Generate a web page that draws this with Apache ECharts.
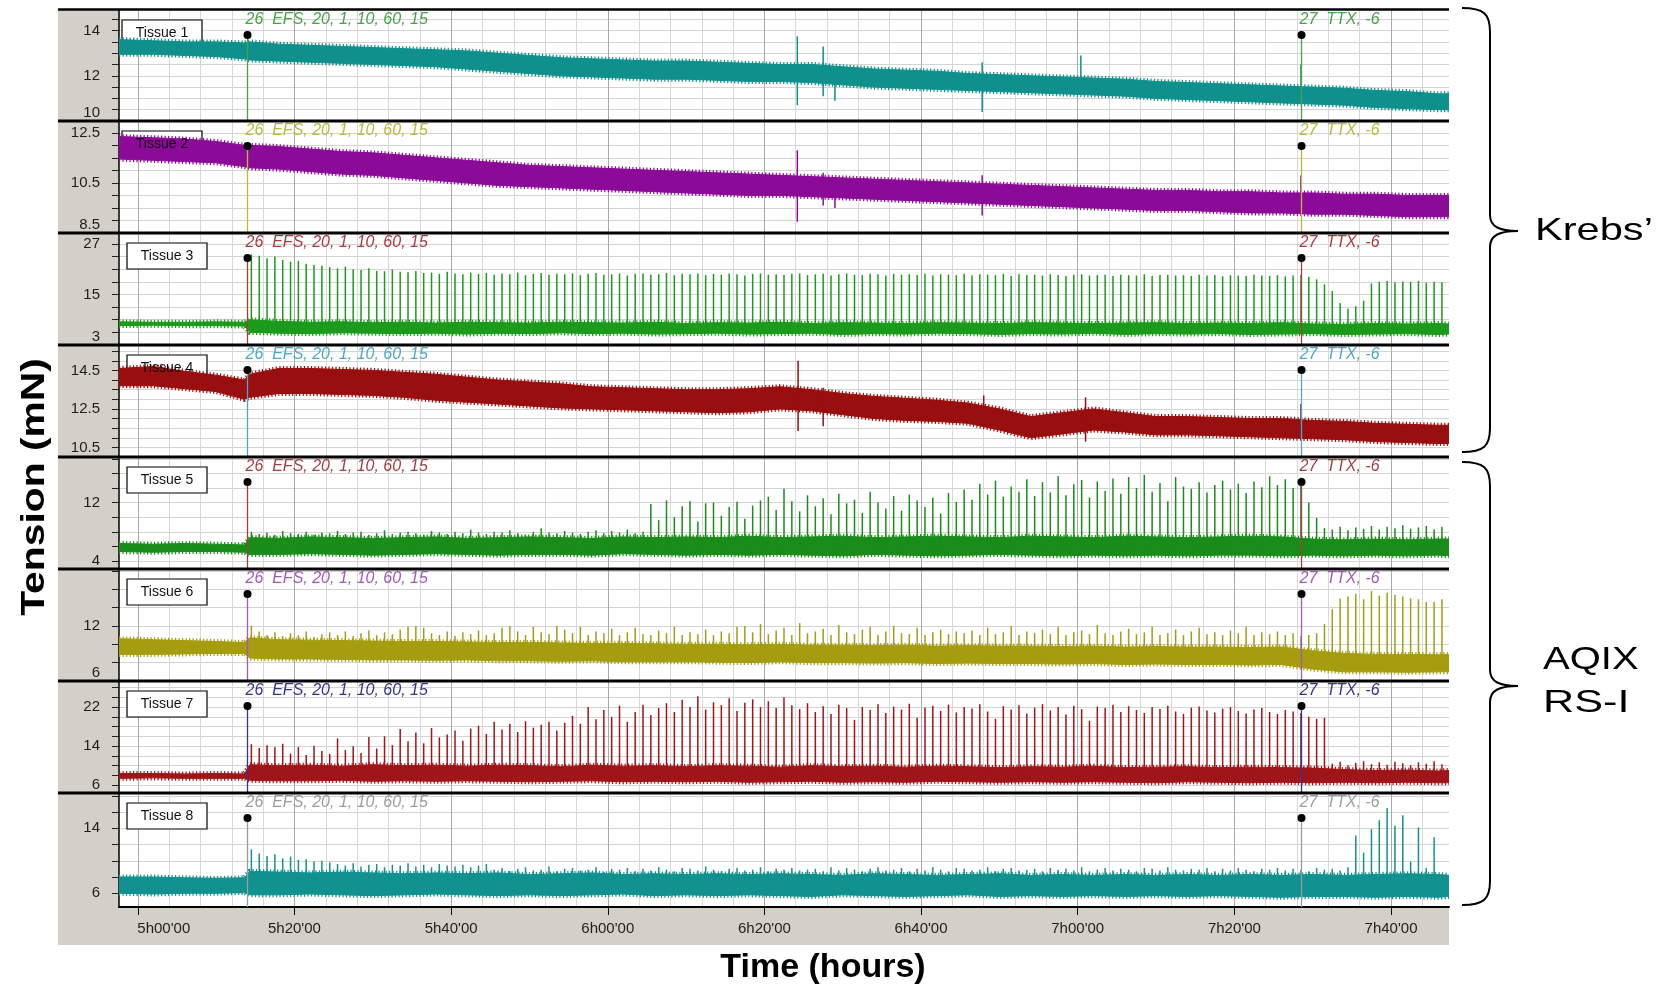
<!DOCTYPE html>
<html>
<head>
<meta charset="utf-8">
<title>Tissue tension</title>
<script src="https://cdn.jsdelivr.net/npm/echarts@6/dist/echarts.min.js"></script>
<style>
  html, body { margin: 0; padding: 0; background: #fff; }
  #frame { position: absolute; left: 58px; top: 9px; width: 1391px; height: 936px; background: #d4d0c8; }
  #chart { position: absolute; left: 0; top: 0; width: 1662px; height: 990px; }
</style>
</head>
<body>
<div id="frame"></div>
<div id="chart"></div>
<script>
// time in minutes (5h00'00 = 300)
var tMin = 297.6, tMax = 467.4;
var xTickMinutes = [300, 320, 340, 360, 380, 400, 420, 440, 460];
var xTickLabels = ["5h00'00", "5h20'00", "5h40'00", "6h00'00", "6h20'00", "6h40'00", "7h00'00", "7h20'00", "7h40'00"];
var gridMinutes = [300, 304, 308, 312, 316, 320, 324, 328, 332, 336, 340, 344, 348, 352, 356, 360, 364, 368, 372, 376,
  380, 384, 388, 392, 396, 400, 404, 408, 412, 416, 420, 424, 428, 432, 436, 440, 444, 448, 452, 456, 460, 464];

var tissueNames = ['Tissue 1', 'Tissue 2', 'Tissue 3', 'Tissue 4', 'Tissue 5', 'Tissue 6', 'Tissue 7', 'Tissue 8'];
var eventMinutes = [313.9, 448.5];
var eventTexts = ['26  EFS, 20, 1, 10, 60, 15', '27  TTX, -6'];

// y axes
var yMin = [10, 8.5, 3, 10, 2.9, 6, 4.4, 4.3];
var yMax = [14.91, 12.97, 29.6, 15.82, 18.25, 18.2, 27.35, 18.35];
var yTicks = [
  [10, 10.5, 11, 11.5, 12, 12.5, 13, 13.5, 14, 14.5],
  [8.5, 9, 9.5, 10, 10.5, 11, 11.5, 12, 12.5],
  [3, 6, 9, 12, 15, 18, 21, 24, 27],
  [10, 10.5, 11, 11.5, 12, 12.5, 13, 13.5, 14, 14.5, 15, 15.5],
  [4, 6, 8, 10, 12, 14, 16, 18],
  [6, 8, 10, 12, 14, 16, 18],
  [6, 8, 10, 12, 14, 16, 18, 20, 22, 24, 26],
  [6, 8, 10, 12, 14, 16, 18]
];
var yLabels = [
  [10, 12, 14], [8.5, 10.5, 12.5], [3, 15, 27], [10.5, 12.5, 14.5],
  [4, 12], [6, 12], [6, 14, 22], [6, 14]
];

// envelope of the recorded trace (lower / upper edge), mN
var bandMinutes = [297.6, 302, 306, 310, 313.6, 314.3, 318, 322, 326, 330, 334, 338, 342, 346, 350, 354, 358, 362, 366, 370,
  374, 378, 382, 386, 390, 394, 398, 402, 406, 410, 414, 418, 422, 426, 430, 434, 438, 442, 446, 450, 454, 458, 462, 466, 467.4];

var p1Lo = [12.95, 12.95, 12.9, 12.85, 12.75, 12.7, 12.65, 12.6, 12.55, 12.5, 12.45, 12.4, 12.3, 12.2, 12.1,
  12.0, 11.95, 11.9, 11.85, 11.85, 11.8, 11.75, 11.75, 11.7, 11.6, 11.5, 11.45, 11.4, 11.35, 11.3,
  11.25, 11.2, 11.15, 11.1, 11.0, 10.95, 10.9, 10.85, 10.8, 10.75, 10.7, 10.6, 10.55, 10.5, 10.5];
var p1Hi = [13.6, 13.55, 13.5, 13.5, 13.45, 13.5, 13.4, 13.35, 13.3, 13.25, 13.2, 13.15, 13.1, 13.0, 12.9,
  12.8, 12.75, 12.7, 12.65, 12.65, 12.6, 12.55, 12.5, 12.5, 12.4, 12.3, 12.25, 12.2, 12.1, 12.05,
  12.0, 11.95, 11.9, 11.85, 11.75, 11.7, 11.65, 11.6, 11.55, 11.5, 11.45, 11.35, 11.3, 11.2, 11.2];
var p2Lo = [11.45, 11.4, 11.35, 11.3, 11.15, 11.1, 11.05, 10.95, 10.85, 10.8, 10.7, 10.6, 10.5, 10.4, 10.35,
  10.3, 10.25, 10.2, 10.15, 10.1, 10.05, 10.0, 10.0, 9.95, 9.9, 9.85, 9.8, 9.75, 9.7, 9.65,
  9.6, 9.55, 9.5, 9.45, 9.4, 9.4, 9.35, 9.3, 9.3, 9.25, 9.25, 9.2, 9.15, 9.15, 9.15];
var p2Hi = [12.35, 12.3, 12.25, 12.15, 12.0, 12.0, 11.95, 11.85, 11.75, 11.7, 11.6, 11.5, 11.4, 11.3, 11.2,
  11.15, 11.1, 11.05, 11.0, 10.95, 10.9, 10.85, 10.8, 10.75, 10.7, 10.65, 10.6, 10.55, 10.5, 10.45,
  10.4, 10.35, 10.3, 10.25, 10.2, 10.2, 10.15, 10.15, 10.1, 10.1, 10.05, 10.05, 10.0, 10.0, 10.0];
var p3Lo = [7.6, 7.7, 7.6, 7.6, 7.5, 6.0, 5.8, 5.7, 5.9, 5.8, 5.7, 5.8, 5.6, 5.8, 5.7,
  5.9, 5.7, 5.8, 5.6, 5.7, 5.8, 5.6, 5.7, 5.8, 5.5, 5.7, 5.6, 5.8, 5.7, 5.5,
  5.7, 5.6, 5.8, 5.5, 5.7, 5.6, 5.7, 5.5, 5.6, 5.7, 5.5, 5.6, 5.7, 5.5, 5.6];
var p3Hi = [8.5, 8.4, 8.4, 8.5, 8.4, 9.0, 8.6, 8.4, 8.5, 8.3, 8.4, 8.2, 8.4, 8.3, 8.2,
  8.4, 8.3, 8.2, 8.4, 8.1, 8.3, 8.2, 8.4, 8.1, 8.3, 8.2, 8.1, 8.3, 8.2, 8.1,
  8.3, 8.2, 8.1, 8.2, 8.3, 8.1, 8.2, 8.1, 8.3, 8.0, 7.9, 8.1, 8.0, 8.1, 8.0];
var p4Lo = [13.7, 13.7, 13.55, 13.4, 13.0, 13.1, 13.3, 13.3, 13.25, 13.2, 13.1, 12.95, 12.85, 12.75, 12.65,
  12.55, 12.5, 12.45, 12.4, 12.35, 12.3, 12.35, 12.5, 12.4, 12.2, 12.0, 11.9, 11.85, 11.75, 11.4,
  11.0, 11.2, 11.4, 11.3, 11.15, 11.15, 11.1, 11.05, 11.0, 10.95, 10.9, 10.8, 10.75, 10.7, 10.7];
var p4Hi = [14.6, 14.7, 14.45, 14.25, 14.0, 14.3, 14.6, 14.6, 14.55, 14.5, 14.4, 14.3, 14.15, 14.0, 13.9,
  13.8, 13.65, 13.6, 13.55, 13.5, 13.5, 13.55, 13.65, 13.5, 13.3, 13.15, 13.05, 12.95, 12.8, 12.5,
  12.1, 12.3, 12.5, 12.3, 12.1, 12.1, 12.05, 12.0, 12.0, 11.9, 11.85, 11.75, 11.7, 11.65, 11.65];
var p5Lo = [5.3, 5.2, 5.3, 5.3, 5.2, 4.9, 4.9, 5.0, 4.9, 4.8, 4.9, 5.0, 4.9, 4.8, 4.9,
  4.9, 4.8, 5.0, 4.9, 4.8, 4.9, 4.8, 4.9, 4.8, 4.7, 4.9, 4.8, 4.7, 4.8, 4.9,
  4.8, 4.7, 4.8, 4.7, 4.8, 4.7, 4.8, 4.8, 4.7, 4.8, 4.7, 4.8, 4.7, 4.8, 4.7];
var p5Hi = [6.4, 6.3, 6.4, 6.3, 6.2, 7.2, 7.1, 7.3, 7.2, 7.1, 7.2, 7.3, 7.1, 7.2, 7.3,
  7.2, 7.1, 7.3, 7.2, 7.3, 7.2, 7.4, 7.2, 7.3, 7.4, 7.2, 7.3, 7.4, 7.3, 7.2,
  7.4, 7.3, 7.2, 7.4, 7.3, 7.2, 7.3, 7.4, 7.3, 7.0, 6.9, 7.0, 6.9, 7.0, 7.0];
var p6Lo = [8.9, 8.9, 8.95, 9.0, 9.0, 8.5, 8.4, 8.4, 8.35, 8.3, 8.3, 8.25, 8.3, 8.2, 8.2,
  8.15, 8.2, 8.1, 8.1, 8.1, 8.05, 8.0, 8.1, 8.0, 8.0, 7.95, 8.0, 7.9, 7.95, 7.9,
  7.9, 7.85, 7.9, 7.8, 7.85, 7.8, 7.8, 7.75, 7.8, 7.3, 7.0, 7.0, 6.95, 7.0, 7.0];
var p6Hi = [10.6, 10.5, 10.4, 10.3, 10.2, 10.7, 10.5, 10.45, 10.4, 10.35, 10.3, 10.3, 10.25, 10.2, 10.2,
  10.15, 10.1, 10.1, 10.05, 10.0, 10.0, 9.95, 10.0, 9.9, 9.9, 9.85, 9.9, 9.8, 9.85, 9.8,
  9.8, 9.75, 9.8, 9.7, 9.75, 9.7, 9.7, 9.65, 9.7, 9.3, 9.0, 8.9, 8.9, 8.85, 8.9];
var p7Lo = [7.4, 7.5, 7.4, 7.4, 7.4, 7.0, 6.9, 6.9, 7.0, 6.8, 6.9, 6.8, 6.9, 6.8, 6.7,
  6.8, 6.9, 6.7, 6.8, 6.7, 6.8, 6.6, 6.7, 6.8, 6.6, 6.7, 6.6, 6.8, 6.7, 6.6,
  6.7, 6.6, 6.7, 6.6, 6.5, 6.7, 6.6, 6.5, 6.6, 6.5, 6.6, 6.5, 6.6, 6.5, 6.5];
var p7Hi = [8.4, 8.4, 8.3, 8.4, 8.3, 10.2, 10.0, 10.1, 9.9, 10.2, 10.0, 10.1, 9.9, 10.1, 10.0,
  9.8, 10.1, 9.9, 10.0, 9.8, 10.0, 9.9, 9.7, 10.0, 9.8, 9.9, 9.7, 9.9, 9.8, 9.6,
  9.8, 9.7, 9.9, 9.6, 9.7, 9.8, 9.6, 9.7, 9.6, 9.5, 9.2, 9.0, 9.1, 8.9, 9.0];
var p8Lo = [6.0, 5.9, 6.0, 6.0, 6.1, 5.8, 5.8, 5.9, 5.8, 5.7, 5.8, 5.9, 5.8, 5.7, 5.8,
  5.7, 5.8, 5.9, 5.7, 5.8, 5.7, 5.8, 5.7, 5.6, 5.8, 5.7, 5.6, 5.7, 5.8, 5.6,
  5.7, 5.6, 5.7, 5.6, 5.7, 5.6, 5.7, 5.6, 5.5, 5.6, 5.6, 5.5, 5.6, 5.5, 5.6];
var p8Hi = [8.0, 8.0, 7.9, 7.8, 7.9, 8.7, 8.6, 8.5, 8.6, 8.5, 8.4, 8.5, 8.4, 8.5, 8.3,
  8.4, 8.5, 8.3, 8.4, 8.3, 8.4, 8.3, 8.4, 8.3, 8.2, 8.4, 8.3, 8.2, 8.3, 8.4,
  8.2, 8.3, 8.2, 8.3, 8.2, 8.3, 8.2, 8.3, 8.2, 8.3, 8.2, 8.3, 8.4, 8.3, 8.2];

// one contraction per stimulation train (about every minute after EFS): peak tension, mN
var pulseMinutes = [314.5, 315.5, 316.5, 317.5, 318.5, 319.5, 320.5, 321.5, 322.5, 323.5,
  324.5, 325.5, 326.5, 327.5, 328.5, 329.5, 330.5, 331.5, 332.5, 333.5,
  334.5, 335.5, 336.5, 337.5, 338.5, 339.5, 340.5, 341.5, 342.5, 343.5,
  344.5, 345.5, 346.5, 347.5, 348.5, 349.5, 350.5, 351.5, 352.5, 353.5,
  354.5, 355.5, 356.5, 357.5, 358.5, 359.5, 360.5, 361.5, 362.5, 363.5,
  364.5, 365.5, 366.5, 367.5, 368.5, 369.5, 370.5, 371.5, 372.5, 373.5,
  374.5, 375.5, 376.5, 377.5, 378.5, 379.5, 380.5, 381.5, 382.5, 383.5,
  384.5, 385.5, 386.5, 387.5, 388.5, 389.5, 390.5, 391.5, 392.5, 393.5,
  394.5, 395.5, 396.5, 397.5, 398.5, 399.5, 400.5, 401.5, 402.5, 403.5,
  404.5, 405.5, 406.5, 407.5, 408.5, 409.5, 410.5, 411.5, 412.5, 413.5,
  414.5, 415.5, 416.5, 417.5, 418.5, 419.5, 420.5, 421.5, 422.5, 423.5,
  424.5, 425.5, 426.5, 427.5, 428.5, 429.5, 430.5, 431.5, 432.5, 433.5,
  434.5, 435.5, 436.5, 437.5, 438.5, 439.5, 440.5, 441.5, 442.5, 443.5,
  444.5, 445.5, 446.5, 447.5, 448.5, 449.5, 450.5, 451.5, 452.5, 453.5,
  454.5, 455.5, 456.5, 457.5, 458.5, 459.5, 460.5, 461.5, 462.5, 463.5,
  464.5, 465.5, 466.5];
var pulseBase = [null, null, 6.0, null, 5.6, 8.9, 8.0, 7.0];

var p3Peaks = [24.5, 24.2, 23.6, 24.0, 23.2, 22.8, 23.0, 22.3, 22.0, 21.8,
  21.5, 21.2, 21.6, 21.0, 20.8, 21.2, 20.6, 20.5, 20.9, 20.4,
  20.3, 20.6, 20.1, 20.2, 19.9, 20.4, 20.0, 19.8, 20.2, 19.9,
  20.1, 19.7, 20.0, 19.8, 20.2, 19.6, 19.9, 20.1, 19.7, 19.9,
  19.8, 20.0, 19.6, 19.9, 20.1, 19.7, 19.8, 20.0, 19.5, 19.9,
  20.0, 19.7, 19.8, 20.1, 19.6, 19.9, 19.8, 20.0, 19.6, 19.9,
  19.7, 20.0, 19.8, 19.5, 19.9, 20.0, 19.7, 19.8, 19.6, 19.9,
  20.0, 19.6, 19.8, 19.9, 19.5, 19.8, 20.0, 19.7, 19.6, 19.9,
  19.8, 19.5, 19.9, 19.7, 19.8, 19.6, 19.9, 19.5, 19.8, 19.7,
  19.6, 19.9, 19.5, 19.8, 19.7, 19.6, 19.9, 19.4, 19.8, 19.6,
  19.7, 19.5, 19.8, 19.6, 19.4, 19.7, 19.8, 19.5, 19.6, 19.7,
  19.4, 19.7, 19.6, 19.5, 19.8, 19.4, 19.6, 19.7, 19.5, 19.6,
  19.4, 19.7, 19.5, 19.6, 19.3, 19.6, 19.5, 19.4, 19.7, 19.5,
  19.4, 19.6, 19.3, 19.5, 19.6, 19.2, 18.6, 17.4, 15.8, 13.0,
  11.6, 12.2, 13.5, 17.6, 18.0, 18.2, 17.9, 18.1, 18.0, 18.2,
  17.8, 18.0, 17.9];
var p5Peaks = [8.0, 7.7, 7.9, 7.6, 8.1, 7.8, 7.7, 8.0, 7.6, 7.9,
  7.8, 8.1, 7.7, 7.9, 8.0, 7.6, 7.8, 8.2, 7.7, 7.9,
  8.0, 7.8, 7.6, 8.1, 7.9, 7.7, 8.0, 7.8, 8.3, 7.9,
  7.7, 8.0, 7.9, 8.2, 7.8, 7.6, 8.0, 8.5, 7.9, 7.8,
  8.1, 7.9, 7.7, 8.0, 8.2, 7.8, 8.1, 7.9, 8.3, 7.8,
  8.0, 11.8, 9.6, 12.3, 10.0, 11.5, 12.2, 9.4, 11.9, 12.0,
  10.2, 11.4, 12.1, 9.8, 11.6, 12.3, 12.8, 11.0, 13.9, 12.2,
  10.8, 13.0, 11.5, 12.6, 10.4, 13.2, 11.9, 12.4, 10.6, 13.5,
  12.0, 11.2, 12.9, 10.9, 13.1, 12.3, 11.4, 12.7, 10.5, 13.3,
  12.1, 13.8, 12.4, 14.6, 13.1, 15.0, 12.8, 14.2, 13.5, 15.2,
  12.9, 14.8, 13.4, 15.6, 13.0, 14.5, 15.1, 12.7, 14.9, 13.6,
  15.3, 13.2, 15.5, 14.0, 15.8, 13.5, 14.7, 12.2, 15.5, 14.2,
  13.9, 14.8, 13.4, 14.4, 15.0, 13.8, 14.6, 13.3, 14.9, 14.1,
  15.6, 14.4, 15.2, 14.0, 15.4, 12.0, 9.9, 8.5, 8.3, 8.7,
  8.2, 8.6, 8.4, 8.8, 8.3, 8.7, 8.5, 8.9, 8.4, 8.6,
  8.8, 8.3, 8.7];
var p6Peaks = [12.0, 11.4, 11.0, 11.3, 10.9, 11.2, 11.0, 11.4, 10.8, 11.1,
  11.3, 11.0, 11.4, 10.9, 11.2, 11.5, 11.0, 11.3, 11.1, 11.6,
  11.9, 12.0, 11.8, 11.2, 11.0, 11.4, 10.9, 11.3, 11.1, 11.5,
  11.0, 11.2, 11.8, 12.0, 11.4, 11.0, 11.9, 11.3, 11.1, 12.0,
  11.6, 11.2, 11.9, 11.0, 11.4, 11.2, 11.7, 11.0, 11.3, 11.8,
  11.1, 11.0, 11.5, 11.2, 11.9, 11.0, 11.3, 11.1, 11.6, 11.0,
  11.4, 11.2, 11.9, 12.0, 11.3, 12.2, 11.1, 11.5, 11.8, 11.0,
  12.3, 11.2, 11.4, 11.7, 11.0, 12.1, 11.3, 11.1, 11.6, 11.9,
  11.0, 11.4, 12.0, 11.2, 11.1, 11.8, 11.0, 11.3, 11.6, 11.1,
  11.4, 11.2, 11.5, 11.0, 11.8, 11.1, 11.3, 12.0, 11.0, 11.4,
  11.2, 11.6, 11.1, 11.9, 11.0, 11.3, 11.5, 11.1, 12.1, 11.2,
  11.0, 11.4, 11.7, 11.1, 11.3, 11.9, 11.0, 11.2, 11.6, 11.0,
  11.4, 11.8, 11.1, 11.3, 11.0, 11.5, 11.2, 11.9, 11.0, 11.3,
  11.1, 11.4, 11.0, 11.2, 10.9, 11.0, 11.2, 12.2, 13.8, 15.0,
  15.2, 15.5, 14.9, 15.8, 15.3, 15.6, 15.4, 15.2, 15.0, 14.9,
  14.6, 14.6, 14.9];
var p7Peaks = [14.4, 13.6, 14.2, 13.8, 14.5, 12.5, 13.8, 12.2, 14.1, 13.0,
  12.4, 15.6, 13.2, 14.0, 12.6, 15.9, 13.5, 16.0, 14.2, 17.5,
  15.0, 16.8, 14.6, 17.7, 15.8, 16.4, 17.2, 15.1, 17.6, 18.2,
  16.5, 19.0, 17.4, 18.6, 16.9, 19.1, 17.8, 18.4, 19.0, 17.2,
  18.8, 20.2, 18.6, 22.0, 19.5, 21.4, 20.0, 22.3, 19.0, 21.0,
  22.5, 20.4, 21.8, 22.8, 21.0, 23.5, 22.0, 24.2, 21.5, 23.0,
  22.4, 23.8, 21.2, 22.9, 23.6, 22.0, 23.2, 21.8, 24.0, 22.4,
  21.6, 22.8, 21.0, 22.2, 20.6, 22.5, 21.8, 19.4, 22.0, 21.4,
  22.6, 20.8, 22.1, 21.5, 22.7, 19.8, 21.9, 22.3, 21.2, 22.5,
  20.9, 22.0, 21.7, 22.6, 21.1, 19.6, 22.2, 21.5, 22.4, 20.7,
  21.9, 22.6, 21.3, 22.0, 20.5, 22.3, 21.6, 19.2, 22.1, 21.8,
  22.5, 21.0, 22.2, 21.4, 20.8, 22.0, 21.6, 22.3, 21.1, 20.6,
  21.9, 22.1, 21.3, 20.9, 21.7, 22.0, 21.2, 20.7, 21.5, 21.8,
  21.0, 20.6, 21.4, 21.1, 20.8, 20.0, 19.6, 19.8, 10.4, 10.8,
  10.1, 10.6, 10.9, 10.3, 10.7, 10.2, 10.8, 10.5, 10.1, 10.7,
  10.4, 10.9, 10.3];
var p8Peaks = [11.4, 10.9, 10.6, 10.8, 10.3, 10.5, 10.1, 10.2, 9.9, 10.0,
  9.8, 9.6, 9.4, 9.7, 9.3, 9.5, 9.6, 9.2, 9.5, 9.4,
  9.7, 9.3, 9.5, 9.2, 9.6, 9.4, 9.3, 9.5, 9.2, 9.4,
  9.6, 8.9, 9.1, 8.7, 9.0, 9.2, 8.8, 8.9, 9.3, 8.7,
  9.0, 9.1, 8.8, 8.9, 9.2, 8.6, 9.0, 8.9, 9.1, 8.7,
  9.0, 8.8, 9.2, 8.9, 8.7, 9.1, 9.0, 8.8, 9.3, 8.9,
  8.7, 9.0, 9.1, 8.8, 8.9, 9.2, 8.7, 9.0, 8.9, 9.1,
  8.8, 8.9, 9.0, 8.7, 9.2, 8.8, 9.1, 8.9, 8.7, 9.0,
  9.2, 8.8, 8.9, 9.1, 8.7, 9.0, 8.8, 9.2, 8.9, 8.7,
  9.1, 9.0, 8.8, 8.9, 9.2, 8.7, 9.0, 9.1, 8.8, 8.9,
  9.0, 8.7, 9.1, 8.9, 9.0, 8.8, 9.2, 8.7, 8.9, 9.1,
  8.8, 9.0, 8.9, 8.7, 9.1, 9.0, 8.8, 9.2, 8.9, 8.8,
  9.0, 8.9, 9.1, 8.7, 9.0, 8.8, 9.1, 8.9, 8.7, 9.0,
  8.9, 9.1, 8.8, 9.0, 8.9, 8.7, 9.1, 8.9, 9.0, 8.8,
  9.2, 13.1, 11.0, 13.9, 15.0, 16.5, 14.3, 15.6, 9.9, 14.1,
  9.1, 12.9, 7.9];

// isolated artefacts: [minute, low, high]
var p1Artifacts = [[384.2, 10.7, 13.75], [387.5, 11.1, 13.3], [389, 10.9, 12.4], [407.8, 10.4, 12.6], [420.4, 11.5, 12.9], [448.5, 11.2, 12.5]];
var p2Artifacts = [[384.2, 8.95, 11.8], [387.5, 9.6, 10.9], [389, 9.5, 10.6], [407.8, 9.2, 10.8], [448.5, 9.6, 10.8]];
var p4Artifacts = [[384.3, 11.35, 15.0], [387.5, 11.6, 13.6], [408, 12.2, 13.2], [421, 10.8, 13.1], [448.5, 11.5, 12.75]];

var bandLo = [p1Lo, p2Lo, p3Lo, p4Lo, p5Lo, p6Lo, p7Lo, p8Lo];
var bandHi = [p1Hi, p2Hi, p3Hi, p4Hi, p5Hi, p6Hi, p7Hi, p8Hi];
var pulsePeaks = [null, null, p3Peaks, null, p5Peaks, p6Peaks, p7Peaks, p8Peaks];
var artifacts = [p1Artifacts, p2Artifacts, null, p4Artifacts, null, null, null, null];

var traceColors = ['#0f908c', '#8b0b98', '#1c9a1c', '#990e0e', '#1a8c1a', '#a59d0f', '#a01519', '#11918f'];
var eventColors = ['#48a248', '#bdb83c', '#a83c3c', '#4ca8c8', '#a04040', '#a458b8', '#34348f', '#9c9c9c'];

var FONT = '"Liberation Sans", Arial, sans-serif';
var panelTops = [10, 121, 233, 345, 457, 569, 681, 793];
var panelHeights = [111, 112, 112, 112, 112, 112, 112, 114];
var boxLeft = [122, 122, 127, 127, 127, 127, 127, 127];

var chart = echarts.init(document.getElementById('chart'));
var option = {
  animation: false,
  backgroundColor: 'transparent',
  grid: [], xAxis: [], yAxis: [], series: [], graphic: []
};

for (var n = 0; n < 8; n++) {
  (function (i) {
    option.grid.push({ left: 119, width: 1330, top: panelTops[i], height: panelHeights[i],
      show: true, backgroundColor: '#ffffff', borderWidth: 0 });
    // light vertical grid every 4 minutes
    option.xAxis.push({ gridIndex: i, type: 'value', min: tMin, max: tMax, position: 'bottom',
      axisLine: { show: false }, axisTick: { show: false, customValues: gridMinutes },
      axisLabel: { show: false }, splitLine: { show: true, lineStyle: { color: '#d8d8d8', width: 1 } } });
    option.yAxis.push({ gridIndex: i, type: 'value', min: yMin[i], max: yMax[i],
      axisLine: { show: true, lineStyle: { color: '#000', width: 1.5 } },
      axisTick: { show: true, customValues: yTicks[i], length: 7, lineStyle: { color: '#222' } },
      axisLabel: { customValues: yLabels[i], fontSize: 15, fontFamily: FONT, color: '#1e1e1e', margin: 19,
        formatter: function (v) { return v === yMin[i] ? '{lo|' + v + '}' : String(v); },
        rich: { lo: { fontSize: 15, fontFamily: FONT, color: '#1e1e1e', padding: [0, 0, 16, 0] } } },
      splitLine: { show: true, lineStyle: { color: '#d4d4d4', width: 1 } } });

    var lo = bandLo[i], hi = bandHi[i], col = traceColors[i];
    option.series.push({
      type: 'custom', xAxisIndex: i, yAxisIndex: i, z: 3, clip: true, silent: true,
      data: [[bandMinutes[0], lo[0]]],
      renderItem: function (params, api) {
        var top = [], bot = [];
        for (var j = 0; j < bandMinutes.length; j++) {
          top.push(api.coord([bandMinutes[j], hi[j]]));
          bot.push(api.coord([bandMinutes[j], lo[j]]));
        }
        var edge = { stroke: col, lineWidth: 5, lineDash: [1.2, 2.3], fill: null };
        return { type: 'group', children: [
          { type: 'polygon', shape: { points: top.concat(bot.slice().reverse()) }, style: { fill: col, stroke: col, lineWidth: 1 } },
          { type: 'polyline', shape: { points: top }, style: edge },
          { type: 'polyline', shape: { points: bot }, style: edge }
        ] };
      }
    });

    var spikes = [];
    if (pulsePeaks[i]) {
      for (var k = 0; k < pulseMinutes.length; k++) {
        if (pulsePeaks[i][k] != null) spikes.push([pulseMinutes[k], pulseBase[i], pulsePeaks[i][k]]);
      }
    }
    if (artifacts[i]) spikes = spikes.concat(artifacts[i]);
    option.series.push({
      type: 'custom', xAxisIndex: i, yAxisIndex: i, z: 4, clip: true, silent: true,
      encode: { x: 0, y: [1, 2] },
      data: spikes,
      renderItem: function (params, api) {
        var a = api.coord([api.value(0), api.value(1)]);
        var b = api.coord([api.value(0), api.value(2)]);
        return { type: 'line', shape: { x1: a[0], y1: a[1], x2: b[0], y2: b[1] },
          style: { stroke: col, lineWidth: 1.5 } };
      }
    });

    option.series.push({
      type: 'custom', xAxisIndex: i, yAxisIndex: i, z: 5, clip: true, silent: true,
      encode: { x: 0, y: 1 },
      data: eventMinutes.map(function (t) { return [t, yMin[i]]; }),
      renderItem: function (params, api) {
        var cs = params.coordSys;
        var x = Math.round(api.coord([api.value(0), api.value(1)])[0]) + 0.5;
        var dotY = cs.y + 25;
        return { type: 'group', children: [
          { type: 'line', shape: { x1: x, y1: dotY, x2: x, y2: cs.y + cs.height }, style: { stroke: eventColors[i], lineWidth: 1.3 } },
          { type: 'circle', shape: { cx: x, cy: dotY, r: 4 }, style: { fill: '#000' } },
          { type: 'text', style: { text: eventTexts[params.dataIndex], x: x - 2, y: cs.y + 10,
            fill: eventColors[i], font: 'italic 16px ' + FONT, align: 'left', verticalAlign: 'middle' } }
        ] };
      }
    });

    // tissue label box (box under the trace, name on top)
    option.graphic.push({ type: 'rect', z: 1, shape: { x: boxLeft[i], y: panelTops[i] + 10, width: 80, height: 26 },
      style: { fill: '#fff', stroke: '#000', lineWidth: 1.2 } });
    option.graphic.push({ type: 'text', z: 6, x: boxLeft[i] + 40, y: panelTops[i] + 23,
      style: { text: tissueNames[i], font: '14px ' + FONT, fill: '#111', align: 'center', verticalAlign: 'middle',
        textAlign: 'center', textVerticalAlign: 'middle' } });
  })(n);
}

// darker vertical lines at the labelled times; tick labels on the bottom panel
for (var m = 0; m < 8; m++) {
  option.xAxis.push({ gridIndex: m, type: 'value', min: tMin, max: tMax, position: 'bottom',
    axisLine: { show: m === 7, lineStyle: { color: '#000', width: 2 } },
    axisTick: { show: m === 7, customValues: xTickMinutes, length: 8, lineStyle: { color: '#000' } },
    axisLabel: { show: m === 7, customValues: xTickMinutes, fontSize: 15, fontFamily: FONT, color: '#1e1e1e', margin: 14,
      formatter: function (v) {
        var j = xTickMinutes.indexOf(v);
        if (j < 0) return '';
        return j === 0 ? '{first|' + xTickLabels[j] + '}' : xTickLabels[j];
      },
      rich: { first: { fontSize: 15, fontFamily: FONT, color: '#1e1e1e', padding: [0, 0, 0, 52] } } },
    splitLine: { show: true, lineStyle: { color: '#a9a9a9', width: 1 } } });
}

// panel separators
var sepY = [9.5, 121, 233, 345, 457, 569, 681, 793];
sepY.forEach(function (y, j) {
  option.graphic.push({ type: 'line', z: 20, shape: { x1: 58, y1: y, x2: 1449, y2: y },
    style: { stroke: '#000', lineWidth: j === 0 ? 2.5 : 3 } });
});

// braces
function brace(y0, y1, ym) {
  var xL = 1462, xV = 1490, xT = 1518, st = { stroke: '#000', lineWidth: 2, fill: null };
  return [
    { type: 'bezierCurve', z: 20, shape: { x1: xL, y1: y0, cpx1: xV - 6, cpy1: y0, cpx2: xV, cpy2: y0 + 6, x2: xV, y2: y0 + 24 }, style: st },
    { type: 'line', z: 20, shape: { x1: xV, y1: y0 + 24, x2: xV, y2: ym - 16 }, style: st },
    { type: 'bezierCurve', z: 20, shape: { x1: xV, y1: ym - 16, cpx1: xV, cpy1: ym - 4, cpx2: xT - 18, cpy2: ym, x2: xT, y2: ym }, style: st },
    { type: 'bezierCurve', z: 20, shape: { x1: xT, y1: ym, cpx1: xT - 18, cpy1: ym, cpx2: xV, cpy2: ym + 4, x2: xV, y2: ym + 16 }, style: st },
    { type: 'line', z: 20, shape: { x1: xV, y1: ym + 16, x2: xV, y2: y1 - 24 }, style: st },
    { type: 'bezierCurve', z: 20, shape: { x1: xV, y1: y1 - 24, cpx1: xV, cpy1: y1 - 6, cpx2: xV - 6, cpy2: y1, x2: xL, y2: y1 }, style: st }
  ];
}
option.graphic = option.graphic.concat(brace(8, 452, 231), brace(462, 905, 686));

function label(text, x, y, font, align, rot, sx) {
  return { type: 'text', z: 20, x: x, y: y, rotation: rot || 0, scaleX: sx || 1,
    style: { text: text, font: font, fill: '#000', align: align, verticalAlign: 'middle',
      textAlign: align, textVerticalAlign: 'middle' } };
}
option.graphic.push(label('Time (hours)', 823, 968, 'bold 34px ' + FONT, 'center'));
option.graphic.push(label('Tension (mN)', 35, 487, 'bold 34px ' + FONT, 'center', Math.PI / 2, 1.2));
option.graphic.push(label('Krebs\u2019', 1535, 231, '32px ' + FONT, 'left', 0, 1.3));
option.graphic.push(label('AQIX', 1543, 660, '32px ' + FONT, 'left', 0, 1.25));
option.graphic.push(label('RS-I', 1543, 703, '32px ' + FONT, 'left', 0, 1.35));

chart.setOption(option);
</script>
</body>
</html>
